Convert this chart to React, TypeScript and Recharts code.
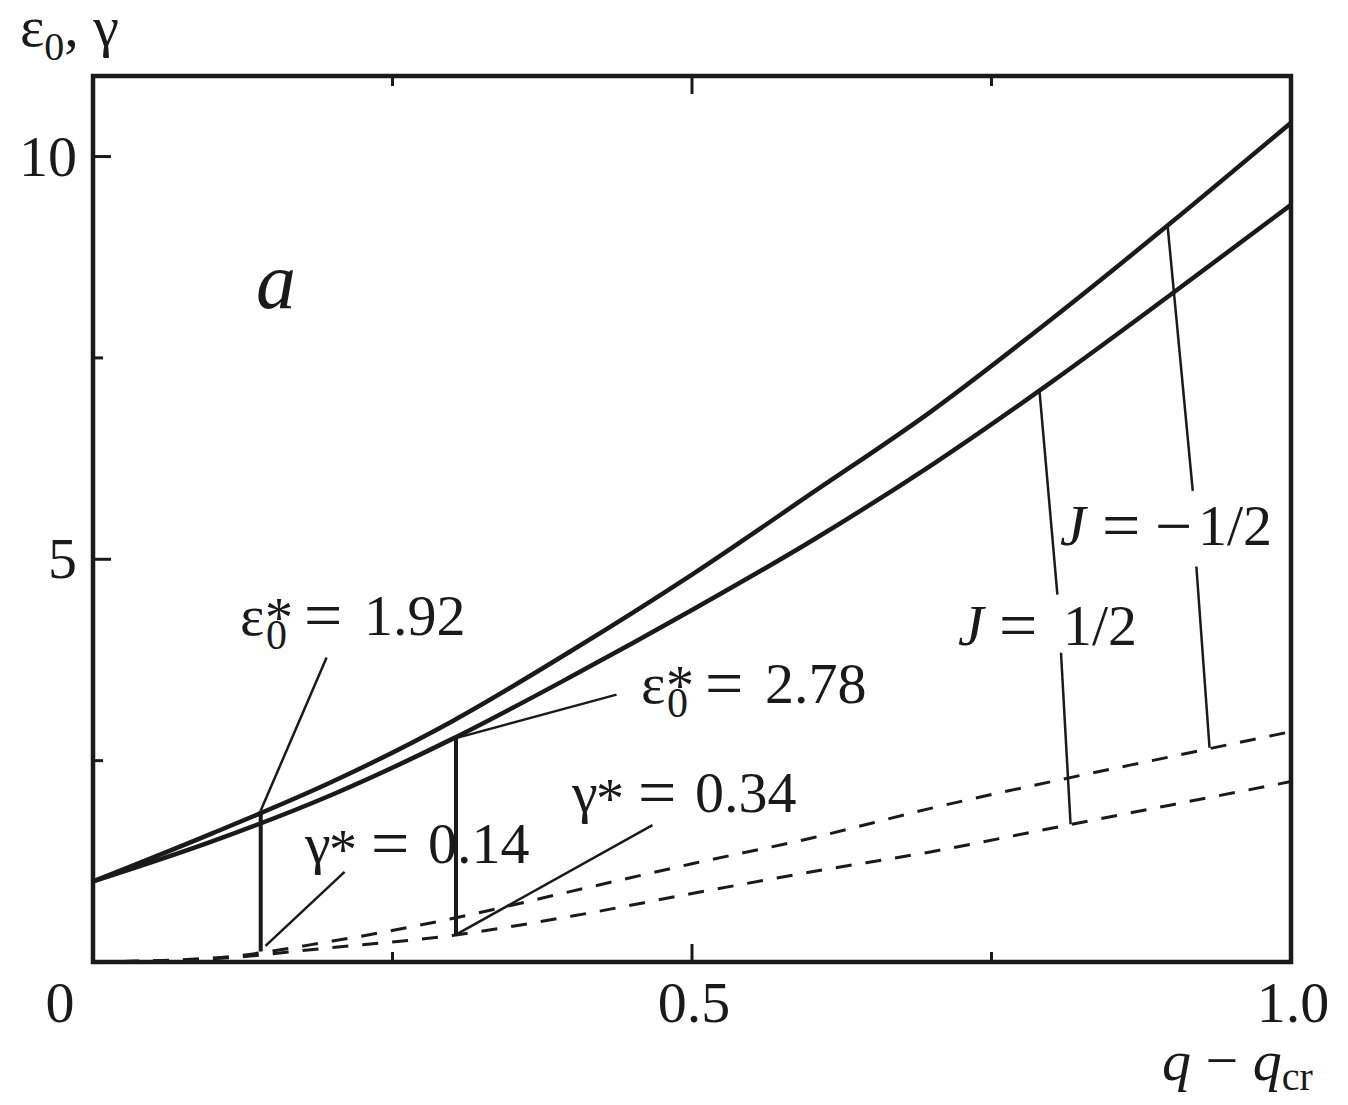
import { Line, LineChart, ReferenceArea, ReferenceLine, XAxis, YAxis } from 'recharts';

const INK = '#1a1a1a';
const FONT = '"Liberation Serif", "Times New Roman", serif';

// q - q_cr
const qValues = [0, 0.1, 0.2, 0.3, 0.4, 0.5, 0.6, 0.7, 0.8, 0.9, 1.0];
// eps_0, J = -1/2 (upper) and J = 1/2 (lower)
const epsUpper = [1.0, 1.6, 2.24, 2.99, 3.87, 4.81, 5.82, 6.84, 7.98, 9.18, 10.42];
const epsLower = [1.0, 1.5, 2.08, 2.77, 3.55, 4.37, 5.23, 6.17, 7.2, 8.29, 9.4];
// gamma, dashed
const gammaUpper = [0, 0.05, 0.26, 0.54, 0.88, 1.22, 1.54, 1.91, 2.24, 2.55, 2.86];
const gammaLower = [0, 0.04, 0.18, 0.33, 0.57, 0.85, 1.12, 1.37, 1.66, 1.95, 2.24];

const xTickValues = [0, 0.25, 0.5, 0.75, 1];
const xTickLabels = ['0', '', '0.5', '', '1.0'];
const yTickValues = [0, 2.5, 5, 7.5, 10];
const yTickLabels = ['', '', '5', '', '10'];

// vertical markers (q, eps*, gamma*)
const markers = [
  { q: 0.14, top: 1.88, bottom: 0.13 },
  { q: 0.303, top: 2.78, bottom: 0.33 },
];

// leader lines from curves to the annotations
const leaders = [
  [0.14, 1.88, 0.195, 3.78],
  [0.144, 0.2, 0.21, 1.12],
  [0.303, 2.78, 0.437, 3.32],
  [0.303, 0.34, 0.467, 1.7],
  [0.79, 7.1, 0.805, 4.56],
  [0.808, 3.84, 0.816, 1.71],
  [0.897, 9.14, 0.918, 5.85],
  [0.921, 4.91, 0.932, 2.66],
];

const rows = qValues.map((q, i) => ({
  q,
  epsUpper: epsUpper[i],
  epsLower: epsLower[i],
  gammaUpper: gammaUpper[i],
  gammaLower: gammaLower[i],
}));

function XTick(props: any) {
  const { x, y, payload, side } = props;
  const v = payload.value;
  const i = xTickValues.indexOf(v);
  const len = v === 0.5 ? 18 : 10;
  const dir = side === 'bottom' ? -1 : 1;
  const label = side === 'bottom' ? xTickLabels[i] : '';
  return (
    <g>
      {v > 0 && v < 1 && <line x1={x} y1={y} x2={x} y2={y + dir * len} stroke={INK} strokeWidth={3} />}
      {label && (
        <text x={v === 0 ? x - 33 : x + 2} y={y + 60} textAnchor="middle" fontSize={58} fontFamily={FONT} fill={INK}>
          {label}
        </text>
      )}
    </g>
  );
}

function YTick(props: any) {
  const { x, y, payload, side } = props;
  const v = payload.value;
  const i = yTickValues.indexOf(v);
  const len = v === 5 || v === 10 ? 18 : 10;
  const dir = side === 'left' ? 1 : -1;
  const label = side === 'left' ? yTickLabels[i] : '';
  return (
    <g>
      {v > 0 && <line x1={x} y1={y} x2={x + dir * len} y2={y} stroke={INK} strokeWidth={3} />}
      {label && (
        <text x={x - 16} y={y + 19} textAnchor="end" fontSize={58} fontFamily={FONT} fill={INK}>
          {label}
        </text>
      )}
    </g>
  );
}

function Star({ x, y, eps, value }: { x: number; y: number; eps: boolean; value: string }) {
  // eps_0^* = value  or  gamma^* = value
  return (
    <g fontFamily={FONT} fill={INK}>
      <text x={x} y={y} fontSize={58}>{eps ? 'ε' : 'γ'}</text>
      {eps && <text x={x + 26} y={y + 14} fontSize={42}>0</text>}
      <text x={x + (eps ? 25 : 24)} y={y + (eps ? 2 : 6)} fontSize={56}>*</text>
      <text x={x + (eps ? 64 : 66)} y={y + 3} fontSize={68}>=</text>
      <text x={x + (eps ? 124 : 123)} y={y} fontSize={58}>{value}</text>
    </g>
  );
}

function Overlay() {
  return (
    <svg width={1348} height={1105} style={{ position: 'absolute', left: 0, top: 0, pointerEvents: 'none' }}>
      <g fontFamily={FONT} fill={INK}>
        <text x={20} y={46} fontSize={58}>
          ε<tspan fontSize={40} dy={14}>0</tspan>
          <tspan fontSize={58} dy={-14}>, γ</tspan>
        </text>
        <text x={256} y={308} fontSize={80} fontStyle="italic">a</text>
        <text x={1162} y={1080} fontSize={58}>
          <tspan fontStyle="italic">q</tspan> − <tspan fontStyle="italic">q</tspan>
          <tspan fontSize={40} dy={10}>cr</tspan>
        </text>
        <text x={958} y={645} fontSize={58}>
          <tspan fontStyle="italic">J</tspan>
        </text>
        <text x={999} y={648} fontSize={68}>=</text>
        <text x={1063} y={645} fontSize={58}>1/2</text>
        <text x={1060} y={545} fontSize={58}>
          <tspan fontStyle="italic">J</tspan>
        </text>
        <text x={1102} y={548} fontSize={68}>=</text>
        <text x={1155} y={548} fontSize={66}>−</text>
        <text x={1198} y={545} fontSize={58}>1/2</text>
      </g>
      <Star x={240} y={635} eps value="1.92" />
      <Star x={641} y={703} eps value="2.78" />
      <Star x={572} y={812} eps={false} value="0.34" />
      <Star x={305} y={863} eps={false} value="0.14" />
    </svg>
  );
}

export default function App() {
  return (
    <div style={{ position: 'absolute', left: 0, top: 0, width: 1348, height: 1105, background: '#fff' }}>
      <LineChart width={1348} height={1105} data={rows} margin={{ top: 56, right: 37, bottom: 83, left: 33 }}>
        <XAxis xAxisId="b" dataKey="q" type="number" domain={[0, 1]} ticks={xTickValues} interval={0}
          height={60} tickSize={0} tickMargin={0} axisLine={false} tickLine={false}
          tick={(p: any) => <XTick {...p} side="bottom" />} />
        <XAxis xAxisId="t" orientation="top" dataKey="q" type="number" domain={[0, 1]} ticks={xTickValues} interval={0}
          height={20} tickSize={0} tickMargin={0} axisLine={false} tickLine={false}
          tick={(p: any) => <XTick {...p} side="top" />} />
        <YAxis yAxisId="l" type="number" domain={[0, 11]} ticks={yTickValues} interval={0}
          width={60} tickSize={0} tickMargin={0} axisLine={false} tickLine={false}
          tick={(p: any) => <YTick {...p} side="left" />} />
        <YAxis yAxisId="r" orientation="right" type="number" domain={[0, 11]} ticks={yTickValues} interval={0}
          width={20} tickSize={0} tickMargin={0} axisLine={false} tickLine={false}
          tick={(p: any) => <YTick {...p} side="right" />} />
        <ReferenceArea xAxisId="b" yAxisId="l" x1={0} x2={1} y1={0} y2={11} fill="none" fillOpacity={0}
          stroke={INK} strokeWidth={4.5} />
        <Line xAxisId="b" yAxisId="l" type="monotone" dataKey="epsUpper" stroke={INK} strokeWidth={4.5} dot={false} isAnimationActive={false} />
        <Line xAxisId="b" yAxisId="l" type="monotone" dataKey="epsLower" stroke={INK} strokeWidth={4.5} dot={false} isAnimationActive={false} />
        <Line xAxisId="b" yAxisId="l" type="monotone" dataKey="gammaUpper" stroke={INK} strokeWidth={3} strokeDasharray="16 14" dot={false} isAnimationActive={false} />
        <Line xAxisId="b" yAxisId="l" type="monotone" dataKey="gammaLower" stroke={INK} strokeWidth={3} strokeDasharray="16 14" dot={false} isAnimationActive={false} />
        {markers.map((m, i) => (
          <ReferenceLine key={'m' + i} xAxisId="b" yAxisId="l" stroke={INK} strokeWidth={4}
            segment={[{ x: m.q, y: m.top }, { x: m.q, y: m.bottom }]} />
        ))}
        {leaders.map((s, i) => (
          <ReferenceLine key={'l' + i} xAxisId="b" yAxisId="l" stroke={INK} strokeWidth={2.5}
            segment={[{ x: s[0], y: s[1] }, { x: s[2], y: s[3] }]} />
        ))}
      </LineChart>
      <Overlay />
    </div>
  );
}
